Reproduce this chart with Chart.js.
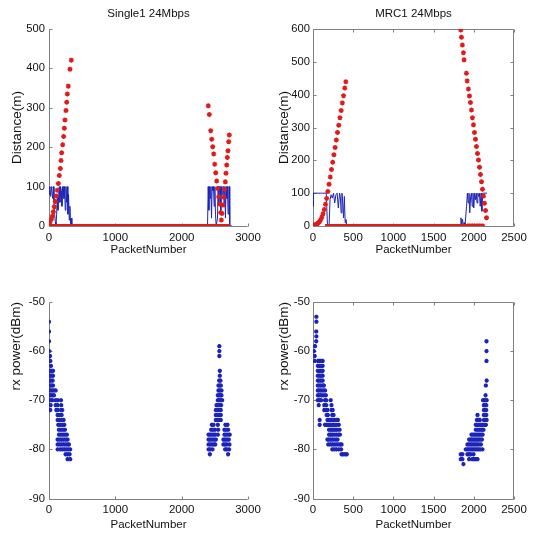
<!DOCTYPE html>
<html>
<head>
<meta charset="utf-8">
<script src="https://cdn.jsdelivr.net/npm/chart.js@4.4.0/dist/chart.umd.min.js"></script>
<style>
  html, body { margin: 0; padding: 0; background: #fff; }
  #page { position: relative; width: 542px; height: 539px; overflow: hidden; }
  canvas { position: absolute; }
</style>
</head>
<body>
<div id="page">
  <canvas id="c1" width="271" height="270" style="left:0;top:0"></canvas>
  <canvas id="c2" width="271" height="270" style="left:271px;top:0"></canvas>
  <canvas id="c3" width="271" height="269" style="left:0;top:270px"></canvas>
  <canvas id="c4" width="271" height="269" style="left:271px;top:270px"></canvas>
</div>
<script>
// --- tick labels ---
const singleXTicks = [0, 1000, 2000, 3000];
const mrcXTicks = [0, 500, 1000, 1500, 2000, 2500];
const singleDistTicks = [0, 100, 200, 300, 400, 500];
const mrcDistTicks = [0, 100, 200, 300, 400, 500, 600];
const rxTicks = [-90, -80, -70, -60, -50];

// --- Single1: distance (red stars) ---
const single1DistX = [0, 15, 35, 50, 65, 80, 95, 110, 125, 141, 155, 171, 181, 191, 206, 221, 231, 241, 256, 267, 276, 291, 316, 336,
  2401, 2417, 2438, 2453, 2468, 2483, 2498, 2513, 2528, 2543, 2558, 2573, 2588, 2598,
  2608, 2623, 2638, 2649, 2658, 2668, 2679, 2688, 2698, 2709, 2718];
const single1DistY = [4, 10, 17, 25, 36, 49, 62, 76, 91, 108, 128, 146, 166, 186, 206, 227, 248, 269, 293, 314, 335, 355, 398, 421,
  305, 283, 242, 220, 201, 183, 157, 135, 114, 95, 74, 56, 34, 15,
  32, 53, 73, 93, 112, 134, 155, 174, 191, 214, 231];
const single1ZeroX = [0, 2730];
const single1ZeroY = [0, 0];

// --- Single1: blue line ---
const single1LineX = [0, 5, 15, 25, 35, 45, 55, 65, 75, 85, 95, 105, 115, 125, 135, 145, 155, 165, 175, 185, 195, 205, 215, 225, 235,
  245, 255, 265, 275, 285, 295, 305, 315, 325, 335, 345,
  2390, 2400, 2410, 2420, 2430, 2440, 2450, 2460, 2470, 2480, 2490, 2500, 2510, 2520, 2530, 2540, 2550, 2560, 2570, 2580,
  2590, 2600, 2610, 2620, 2630, 2640, 2650, 2660, 2670, 2680, 2690, 2700, 2710, 2720, 2725, 2760];
const single1LineY = [80, 100, 100, 75, 100, 100, 70, 100, 60, 30, 10, 0, 30, 70, 40, 80, 100, 60, 100, 90, 50, 100, 100, 70, 100,
  40, 100, 60, 100, 30, 80, 15, 50, 5, 20, 0,
  0, 100, 40, 100, 70, 100, 20, 100, 90, 100, 50, 100, 30, 0, 0, 20, 100, 60, 100, 100,
  40, 100, 80, 100, 100, 50, 100, 20, 100, 70, 100, 30, 100, 100, 0, 0];

// --- MRC1: distance (red stars) ---
const mrc1DistX = [5, 20, 35, 50, 65, 80, 95, 110, 125, 140, 155, 170, 185, 200, 215, 230, 245, 260, 275, 290, 305, 320, 335, 350,
  365, 380, 395, 408,
  1838, 1846, 1858, 1871, 1879, 1908, 1917, 1933, 1946, 1958, 1971, 1983, 1996, 2008, 2021, 2033, 2046, 2058, 2071, 2083,
  2096, 2108, 2121, 2133, 2146, 2158,
  1925, 1945, 1965, 1985, 2005, 2030, 2050, 2070, 2090, 2110];
const mrc1DistY = [2, 3, 4, 6, 9, 13, 19, 27, 37, 50, 66, 84, 105, 127, 149, 172, 194, 217, 239, 262, 285, 307, 330, 352,
  375, 397, 420, 439,
  597, 575, 551, 528, 506, 465, 442, 417, 396, 376, 353, 330, 308, 285, 264, 242, 221, 201, 179, 157,
  135, 112, 91, 69, 47, 25,
  0, 0, 0, 0, 0, 0, 0, 0, 0, 0];
const mrc1ZeroX = [150, 1905];
const mrc1ZeroY = [0, 0];

// --- MRC1: blue line ---
const mrc1LineX = [0, 3, 10, 30, 60, 90, 120, 150, 165, 180, 200, 212, 225, 240, 255, 270, 285, 300, 315, 330,
  340, 350, 360, 370, 380, 390, 400, 410, 420, 430,
  1830, 1840, 1850, 1860, 1870, 1880, 1890, 1900, 1910, 1920, 1930, 1940, 1950, 1960, 1970, 1980, 1990, 2000, 2010, 2020,
  2030, 2040, 2050, 2060, 2070, 2080, 2090, 2100, 2110, 2120, 2140, 2165];
const mrc1LineY = [60, 100, 100, 100, 100, 100, 100, 100, 100, 0, 0, 80, 95, 85, 100, 70, 95, 100, 55, 100,
  90, 40, 100, 70, 25, 90, 10, 20, 0, 0,
  0, 25, 5, 20, 0, 10, 0, 30, 60, 100, 70, 100, 40, 90, 100, 60, 100, 55, 100, 80,
  100, 70, 100, 90, 100, 60, 100, 45, 100, 100, 100, 100];

// --- rx power rows: [dBm, packet numbers] ---
const single1RxRows = [
  [-54, [0]], [-56, [0]], [-58, [0]], [-60, [5]], [-61, [15]], [-62, [5, 20]], [-63, [30]],
  [-64, [0, 20, 40, 60]], [-65, [0, 20, 40, 60]], [-66, [10, 30, 55]], [-67, [0, 20, 40, 60]],
  [-68, [0, 20, 45, 70, 100]], [-69, [0, 25, 50, 75]], [-70, [0, 25, 50, 100, 130, 180]],
  [-71, [0, 25, 100, 130, 185]], [-72, [0, 20, 110, 130, 180, 200]], [-73, [130, 160, 190]],
  [-74, [130, 160, 190, 220]], [-75, [140, 170, 200, 230]], [-76, [150, 180, 210, 240]],
  [-77, [150, 180, 210, 240, 270]], [-78, [130, 160, 190, 220, 250, 280]],
  [-79, [130, 160, 190, 220, 250, 280, 300]], [-80, [130, 170, 200, 230, 260, 290, 320]],
  [-81, [250, 280, 310]], [-82, [280, 320]],
  [-59, [2568]], [-60, [2568]], [-61, [2568]], [-64, [2575]], [-65, [2575]], [-66, [2565, 2585]],
  [-67, [2555, 2575, 2590]], [-68, [2555, 2575, 2600]], [-69, [2545, 2565, 2585, 2600]],
  [-70, [2545, 2565, 2585, 2610]], [-71, [2525, 2545, 2570, 2595]], [-72, [2515, 2540, 2565, 2590]],
  [-73, [2515, 2540, 2565, 2590]], [-74, [2515, 2540, 2565, 2590]],
  [-75, [2455, 2480, 2545, 2660, 2690]], [-76, [2445, 2470, 2500, 2550, 2645, 2670, 2700]],
  [-77, [2405, 2430, 2455, 2480, 2505, 2545, 2645, 2670, 2700, 2725]],
  [-78, [2405, 2430, 2460, 2490, 2515, 2630, 2655, 2680, 2710]],
  [-79, [2405, 2430, 2455, 2485, 2505, 2630, 2655, 2680, 2720]],
  [-80, [2405, 2430, 2465, 2655, 2680, 2715]], [-81, [2425, 2700]]
];
const mrc1RxRows = [
  [-53, [42]], [-54, [42]], [-56, [40]], [-57, [42]], [-58, [40]], [-59, [25]], [-60, [12]], [-61, [21]],
  [-62, [21, 63, 80, 100, 120]], [-63, [60, 80, 100, 120]], [-64, [60, 80, 100, 120]],
  [-65, [60, 80, 100, 120]], [-66, [60, 80, 100, 120]], [-67, [60, 80, 100, 125, 135]],
  [-68, [60, 80, 100, 125, 150]], [-69, [60, 80, 105, 130, 160]], [-70, [60, 80, 100, 150, 165, 220]],
  [-71, [71, 140, 165, 230]], [-72, [140, 160, 180, 230, 245]], [-73, [170, 185, 240, 255]],
  [-74, [83, 180, 200, 220, 240, 260, 290, 310]], [-75, [83, 150, 170, 190, 210, 230, 250, 270, 290, 320]],
  [-76, [200, 220, 240, 260, 280, 300, 330]], [-77, [200, 220, 240, 265, 290, 315, 335]],
  [-78, [180, 200, 225, 250, 280, 305]], [-79, [190, 215, 240, 265, 290, 315, 340, 355]],
  [-80, [240, 265, 290, 320, 350]], [-81, [355, 375, 400, 420]],
  [-58, [2158]], [-60, [2158]], [-62, [2158]], [-66, [2160]], [-67, [2150]], [-69, [2146]],
  [-70, [2115, 2130, 2145, 2160]], [-71, [2125, 2140, 2155]], [-72, [2125, 2140, 2155]],
  [-73, [2046, 2125, 2140, 2155]], [-74, [2038, 2055, 2075, 2125, 2145, 2160]],
  [-75, [2025, 2045, 2065, 2085, 2105, 2130, 2150]], [-76, [2025, 2045, 2065, 2085, 2105, 2120]],
  [-77, [1971, 1990, 2010, 2030, 2050, 2070, 2090, 2110]],
  [-78, [1942, 1960, 1980, 2000, 2020, 2040, 2060, 2080, 2100]],
  [-79, [1921, 1940, 1960, 1980, 2000, 2020, 2040, 2060, 2088]],
  [-80, [1900, 1920, 1940, 1960, 1980, 2000, 2020, 2040, 2060, 2080, 2108]],
  [-81, [1838, 1858, 1921, 1940, 1960, 1996]], [-82, [1838, 1858, 1942, 1983, 2004, 2025, 2046]],
  [-83, [1871]]
];

const RED = '#e01b1b';
const BLUE = '#1c24b8';
const smallFont = "'Liberation Sans', Arial, sans-serif";

const zip = (xs, ys) => xs.map((x, i) => ({ x: x, y: ys[i] }));
const fromRows = rows => {
  const pts = [];
  rows.forEach(([dbm, xs]) => xs.forEach(x => pts.push({ x: x, y: dbm })));
  return pts;
};

// MATLAB style axes: grey axis lines, small inward ticks, optional box
const matlabAxes = {
  id: 'matlabAxes',
  beforeDatasetsDraw(chart, args, opts) {
    const { ctx, chartArea: a, scales: { x, y } } = chart;
    ctx.save();
    ctx.strokeStyle = '#808080';
    ctx.lineWidth = 1;
    ctx.beginPath();
    const L = Math.round(a.left) + 0.5, B = Math.round(a.bottom) + 0.5;
    const R = Math.round(a.right) - 0.5, T = Math.round(a.top) + 0.5;
    ctx.moveTo(L, T); ctx.lineTo(L, B); ctx.lineTo(R, B);
    if (opts.box) { ctx.moveTo(L, T); ctx.lineTo(R, T); ctx.lineTo(R, B); }
    x.ticks.forEach(t => {
      const px = Math.round(x.getPixelForValue(t.value)) + 0.5;
      ctx.moveTo(px, B); ctx.lineTo(px, B - 3);
      if (opts.box) { ctx.moveTo(px, T); ctx.lineTo(px, T + 3); }
    });
    y.ticks.forEach(t => {
      const py = Math.round(y.getPixelForValue(t.value)) + 0.5;
      ctx.moveTo(L, py); ctx.lineTo(L + 3, py);
      if (opts.box) { ctx.moveTo(R, py); ctx.lineTo(R - 3, py); }
    });
    ctx.stroke();
    ctx.restore();
  }
};

function panel(id, o) {
  new Chart(document.getElementById(id), {
    type: 'scatter',
    data: { datasets: o.datasets },
    options: {
      responsive: false,
      animation: false,
      events: [],
      layout: { padding: { left: 0, right: o.padRight, top: o.padTop, bottom: 0 } },
      plugins: {
        legend: { display: false },
        tooltip: { enabled: false },
        title: o.title ? {
          display: true, text: o.title, fullSize: false, color: '#111',
          font: { family: smallFont, size: 11.5, weight: 'normal' },
          padding: { top: 6.5, bottom: 8.7 }
        } : { display: false },
        matlabAxes: { box: o.box }
      },
      scales: {
        x: {
          type: 'linear', min: o.xTicks[0], max: o.xTicks[o.xTicks.length - 1],
          afterBuildTicks: s => { s.ticks = o.xTicks.map(v => ({ value: v })); },
          afterFit: s => { s.height = o.xHeight; },
          grid: { display: false, drawTicks: false }, border: { display: false },
          ticks: { color: '#111', padding: 4.5, maxRotation: 0, autoSkip: false,
            callback: v => String(v), font: { family: smallFont, size: 11.5 } },
          title: { display: true, text: 'PacketNumber', color: '#111',
            font: { family: smallFont, size: 11.5 }, padding: { top: 0, bottom: o.xTitlePad } }
        },
        y: {
          type: 'linear', min: o.yTicks[0], max: o.yTicks[o.yTicks.length - 1],
          afterBuildTicks: s => { s.ticks = o.yTicks.map(v => ({ value: v })); },
          afterFit: s => { s.width = o.yWidth; },
          grid: { display: false, drawTicks: false }, border: { display: false },
          ticks: { color: '#111', padding: o.yTickPad, autoSkip: false,
            callback: v => String(v), font: { family: smallFont, size: 11.2 } },
          title: { display: true, text: o.yTitle, color: '#111', align: o.yAlign || 'center',
            font: { family: smallFont, size: 13.5 }, padding: { top: o.yTitlePad, bottom: 0 } }
        }
      }
    },
    plugins: [matlabAxes]
  });
}

const starSet = (data, color, r) => ({
  data: data, showLine: false, pointStyle: 'star', pointRadius: r,
  borderColor: color, backgroundColor: color, pointBorderWidth: 1.4
});
const lineSet = (data, color, w) => ({
  data: data, showLine: true, pointRadius: 0, borderColor: color, borderWidth: w, tension: 0
});

panel('c1', {
  title: 'Single1 24Mbps', yTitle: 'Distance(m)', box: false,
  xTicks: singleXTicks, yTicks: singleDistTicks,
  padTop: 0, padRight: 23, xHeight: 44, yWidth: 49, yTickPad: 4, yTitlePad: 9, xTitlePad: 13.1,
  datasets: [
    starSet(zip(single1DistX, single1DistY), RED, 2.5),
    lineSet(zip(single1ZeroX, single1ZeroY), RED, 4),
    lineSet(zip(single1LineX, single1LineY), BLUE, 1)
  ]
});

panel('c2', {
  title: 'MRC1 24Mbps', yTitle: 'Distance(m)', box: true,
  xTicks: mrcXTicks, yTicks: mrcDistTicks,
  padTop: 0, padRight: 28, xHeight: 44, yWidth: 42, yTickPad: 3, yTitlePad: 4.9, xTitlePad: 13.1,
  datasets: [
    starSet(zip(mrc1DistX, mrc1DistY), RED, 2.5),
    lineSet(zip(mrc1ZeroX, mrc1ZeroY), RED, 4),
    lineSet(zip(mrc1LineX, mrc1LineY), BLUE, 1)
  ]
});

panel('c3', {
  title: null, yTitle: 'rx power(dBm)', yAlign: 'end', box: false,
  xTicks: singleXTicks, yTicks: rxTicks,
  padTop: 32, padRight: 23, xHeight: 40.5, yWidth: 49, yTickPad: 4, yTitlePad: 8.3, xTitlePad: 7.1,
  datasets: [starSet(fromRows(single1RxRows), BLUE, 2.1)]
});

panel('c4', {
  title: null, yTitle: 'rx power(dBm)', yAlign: 'end', box: true,
  xTicks: mrcXTicks, yTicks: rxTicks,
  padTop: 32, padRight: 28, xHeight: 40.5, yWidth: 42, yTickPad: 3, yTitlePad: 5.2, xTitlePad: 7.1,
  datasets: [starSet(fromRows(mrc1RxRows), BLUE, 2.1)]
});
</script>
</body>
</html>
